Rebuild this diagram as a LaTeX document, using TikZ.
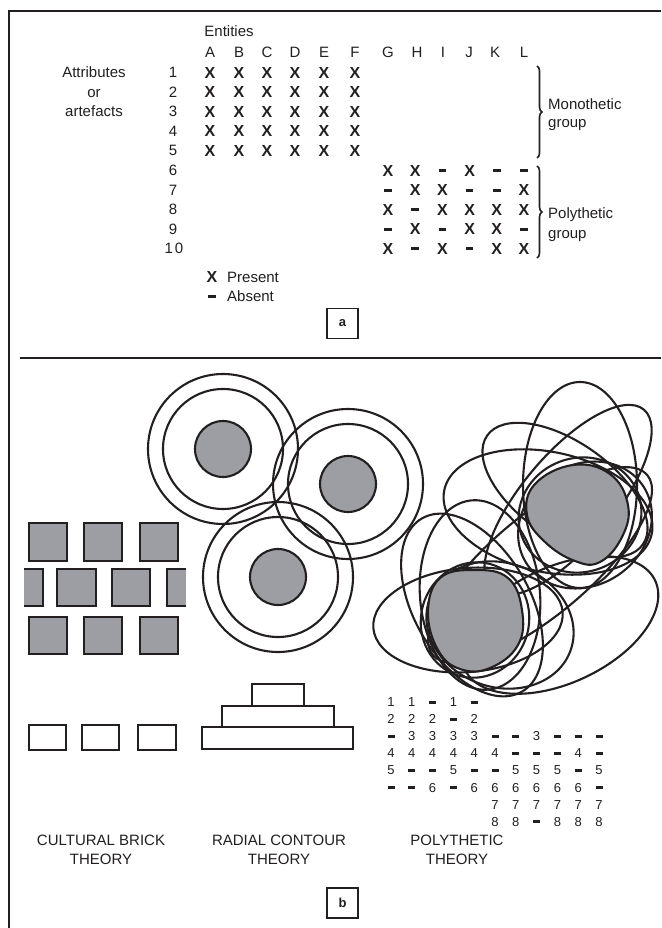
\documentclass[tikz,border=0pt]{standalone}
\usepackage{fontspec}
\setmainfont{Liberation Sans}
\usetikzlibrary{decorations.pathreplacing}
\definecolor{blobgray}{RGB}{157,158,163}
\definecolor{ink}{RGB}{35,31,32}
\begin{document}
\begin{tikzpicture}[x=1pt,y=-1pt,
  lbl/.style={anchor=base, text=ink, inner sep=0pt, font=\fontsize{15}{17}\selectfont},
  lblL/.style={lbl, anchor=base west},
  xmark/.style={anchor=base, text=ink, inner sep=0pt, font=\fontsize{16}{18}\selectfont\bfseries},
  dmark/.style={inner sep=0pt, text=ink},
  dig/.style={anchor=base, text=ink, inner sep=0pt, font=\fontsize{13}{15}\selectfont},
  shp/.style={draw=ink, line width=2.1pt},
  gfill/.style={draw=ink, line width=2.1pt, fill=blobgray},
  brick/.style={draw=ink, line width=2.3pt, fill=blobgray},
  wbox/.style={draw=ink, line width=2.3pt, fill=white},
  tag/.style={draw=ink, line width=1.1pt, minimum width=31pt, minimum height=30pt, text=ink, font=\fontsize{13}{15}\selectfont\bfseries, inner sep=0pt},
  brc/.style={decorate, decoration={brace, amplitude=5pt}, draw=ink, line width=1.6pt},
  frame/.style={draw=ink, line width=1.3pt}
]
\useasboundingbox (0,0) rectangle (661,928);
\fill[white] (0,0) rectangle (661,928);
% frame
\coordinate (fb) at (9,928);
\coordinate (fc) at (9,11);
\coordinate (fr) at (661,11);
\draw[frame] (fb) -- (fc) -- (fr);
\coordinate (dl) at (20,358);
\coordinate (dr) at (661,358);
\draw[draw=ink, line width=1.1pt] (dl) -- (dr);

% ---------- panel a ----------
\node[lbl] (ent) at (229,37) {Entities};
\foreach \L/\x in {A/210,B/239,C/267,D/295,E/324,F/355,G/388,H/417,I/443,J/469,K/495,L/524}
  \node[lbl] (col-\L) at (\x,58) {\L};
\node[lbl] (att1) at (94,78) {Attributes};
\node[lbl] (att2) at (94,97.5) {or};
\node[lbl] (att3) at (94,117) {artefacts};
\foreach \r in {1,...,9}
  \node[lbl] (row-\r) at (173,{78+19.5*(\r-1)}) {\r};
\node[lbl] (row-10) at (174,253.5) {1\kern2pt0};
% monothetic block
\foreach \x [count=\c] in {210,239,267,295,324,355}
  \foreach \r in {1,...,5}
    \node[xmark] (m-\r-\c) at (\x,{78.5+19.5*(\r-1)}) {X};
% polythetic block
\foreach \r/\vals in {6/{X,X,-,X,-,-},7/{-,X,X,-,-,X},8/{X,-,X,X,X,X},9/{-,X,-,X,X,-},10/{X,-,X,-,X,X}}{
  \foreach \v [count=\c] in \vals {
    \if-\v
      \node[dmark] (p-\r-\c) at ({388+27.2*(\c-1)},{73+19.5*(\r-1)}) {\rule{7.5pt}{3pt}};
    \else
      \node[xmark] (p-\r-\c) at ({388+27.2*(\c-1)},{78.5+19.5*(\r-1)}) {X};
    \fi
  }
}
\coordinate (b1t) at (537,66);
\coordinate (b1b) at (537,158);
\draw[brc] (b1t) -- (b1b);
\node[lblL] (mono1) at (548,110) {Monothetic};
\node[lblL] (mono2) at (548,128) {group};
\coordinate (b2t) at (537,166);
\coordinate (b2b) at (537,258);
\draw[brc] (b2t) -- (b2b);
\node[lblL] (poly1) at (548,218) {Polythetic};
\node[lblL] (poly2) at (548,238) {group};
% legend
\node[xmark] (legx) at (212,282.5) {X};
\node[lblL] (legp) at (227,282) {Present};
\node[dmark] (legd) at (212,296) {\rule{7.5pt}{3pt}};
\node[lblL] (lega) at (227,301) {Absent};
\node[tag] (taga) at (342.5,323.5) {a};

% ---------- panel b ----------
% cultural bricks
\draw[brick] (29,523) rectangle (67,561);
\draw[brick] (84,523) rectangle (122,561);
\draw[brick] (140,523) rectangle (178,561);
\fill[blobgray] (24,569) rectangle (43,606);
\draw[draw=ink, line width=2.3pt] (24,569) -- (43,569) -- (43,606) -- (24,606);
\draw[brick] (57,569) rectangle (96,606);
\draw[brick] (112,569) rectangle (150,606);
\fill[blobgray] (167,569) rectangle (186,606);
\draw[draw=ink, line width=2.3pt] (186,569) -- (167,569) -- (167,606) -- (186,606);
\draw[brick] (29,617) rectangle (67,654);
\draw[brick] (84,617) rectangle (122,654);
\draw[brick] (140,617) rectangle (178,654);
\draw[wbox] (29,725) rectangle (66,750);
\draw[wbox] (82,725) rectangle (119,750);
\draw[wbox] (138,725) rectangle (176,750);

% radial contour
\foreach \cx/\cy in {223/449, 348/484, 278/577}{
  \draw[shp] (\cx,\cy) circle[radius=75];
  \draw[shp] (\cx,\cy) circle[radius=60];
  \draw[gfill] (\cx,\cy) circle[radius=28];
}
\draw[wbox] (202,727) rectangle (353,749);
\draw[wbox] (222,706) rectangle (334,727);
\draw[wbox] (252,684) rectangle (304,706);

% polythetic tangle
\foreach \cx/\cy/\a/\b/\t in {
  580/485/57/103/0,
  568/500/118/46/50,
  565/490/95/48/-35,
  548/512/106/60/-12,
  580/515/62/57/20,
  585/525/70/60/35,
  540/565/140/50/40,
  468/620/95/52/5,
  480/595/60/95/5,
  472/605/100/58/-60,
  560/625/105/58/25,
  475/620/54/58/-15,
  500/625/75/62/-20}{
  \draw[shp, rotate around={\t:(\cx,\cy)}] (\cx,\cy) ellipse [x radius=\a, y radius=\b];
}
\draw[gfill] plot[smooth cycle, tension=0.7] coordinates {(573,465) (610,474) (628,505) (622,537) (600,562) (575,561) (545,542) (527,515) (535,484)};
\draw[gfill] plot[smooth cycle, tension=0.7] coordinates {(440,578) (475,570) (508,578) (522,610) (518,645) (490,668) (460,669) (438,650) (428,612)};

% polythetic grid
\foreach \j/\vals in {0/{1,1,-,1,-},1/{2,2,2,-,2},2/{-,3,3,3,3,-,-,3,-,-,-},3/{4,4,4,4,4,4,-,-,-,4,-},4/{5,-,-,5,-,-,5,5,5,-,5},5/{-,-,6,-,6,6,6,6,6,6,-}}{
  \foreach \v [count=\c] in \vals {
    \if-\v
      \node[dmark] (g-\j-\c) at ({391+20.8*(\c-1)},{702+17.1*\j}) {\rule{7pt}{3pt}};
    \else
      \node[dig] (g-\j-\c) at ({391+20.8*(\c-1)},{706.5+17.1*\j}) {\v};
    \fi
  }
}
\foreach \j/\vals in {6/{7,7,7,7,7,7},7/{8,8,-,8,8,8}}{
  \foreach \v [count=\c from 6] in \vals {
    \if-\v
      \node[dmark] (g-\j-\c) at ({391+20.8*(\c-1)},{702+17.1*\j}) {\rule{7pt}{3pt}};
    \else
      \node[dig] (g-\j-\c) at ({391+20.8*(\c-1)},{706.5+17.1*\j}) {\v};
    \fi
  }
}

% labels
\node[lbl] (cb1) at (101,845) {CULTURAL BRICK};
\node[lbl] (cb2) at (101,864) {THEORY};
\node[lbl] (rc1) at (279,845) {RADIAL CONTOUR};
\node[lbl] (rc2) at (279,864) {THEORY};
\node[lbl] (pt1) at (457,845) {POLYTHETIC};
\node[lbl] (pt2) at (457,864) {THEORY};
\node[tag] (tagb) at (342.5,903) {b};
\end{tikzpicture}
\end{document}
